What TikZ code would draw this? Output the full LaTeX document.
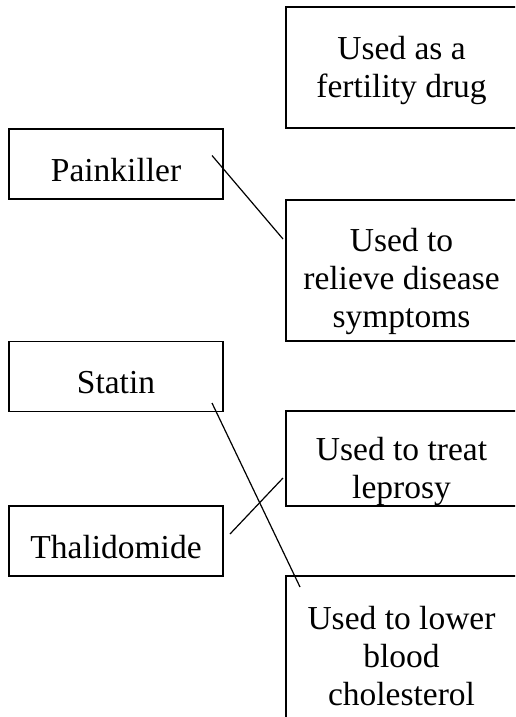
\documentclass[tikz,border=0pt]{standalone}
\usepackage{fontspec}
\setmainfont{Liberation Serif}
\usetikzlibrary{calc}

\begin{document}
\begin{tikzpicture}[
    x=1pt, y=-1pt,
    drug/.style={rectangle, draw, line width=1.6pt, inner sep=0pt, outer sep=0pt,
                 minimum width=214, minimum height=70, text height=34pt, text depth=0pt,
                 font=\fontsize{33.5}{38}\selectfont},
    use/.style={rectangle, draw, line width=1.6pt, inner sep=0pt, outer sep=0pt,
                minimum width=300},
    txt/.style={inner sep=0pt, align=center, xshift=-34.5, font=\fontsize{33.5}{38}\selectfont},
    link/.style={line width=1.2pt},
]
\clip (0,0) rectangle (515,717);

% Левый столбец: лекарства
\node[drug] (pain) at (116, 164) {Painkiller};
\node[drug] (stat) at (116, 376.5) {Statin};
\node[drug] (thal) at (116, 541) {Thalidomide};

% Правый столбец: применение
\node[use, minimum height=121, label={[txt, yshift=-3]center:Used as a\\fertility drug}] (fert) at (436, 67.5) {};
\node[use, minimum height=141, label={[txt, yshift=-11]center:Used to\\relieve disease\\symptoms}] (relief) at (436, 270.5) {};
\node[use, minimum height=95, label={[txt, yshift=-13]center:Used to treat\\leprosy}] (lep) at (436, 458.5) {};
\node[use, minimum height=162, label={[txt, yshift=1]center:Used to lower\\blood\\cholesterol}] (chol) at (436, 657) {};

% Линии соответствия
\draw[link] ($(pain.east)+(-11,-8.5)$) -- ($(relief.west)+(-3,-31.5)$);
\draw[link] ($(stat.south east)+(-11,-8.5)$) -- ($(chol.north west)+(14,11)$);
\draw[link] ($(thal.east)+(7,-7)$) -- ($(lep.west)+(-3,19.5)$);

\end{tikzpicture}
\end{document}
